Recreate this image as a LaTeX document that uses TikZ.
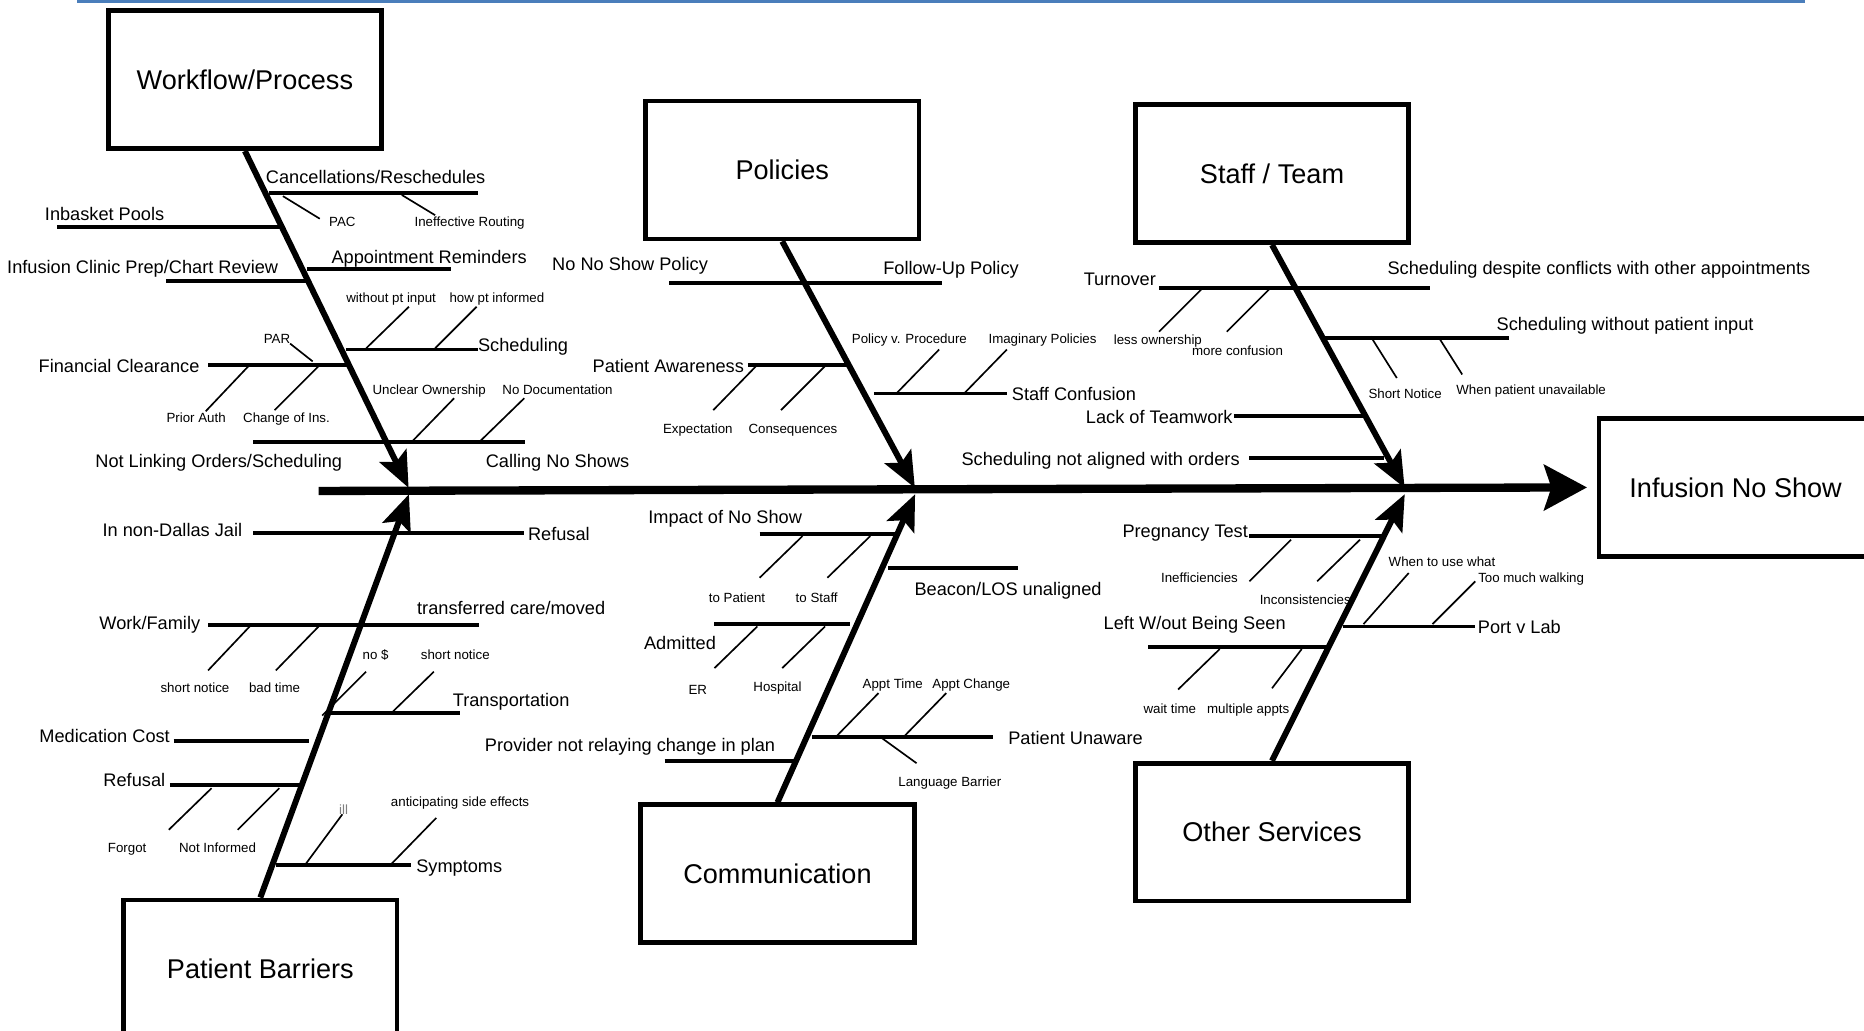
\documentclass[tikz,border=0pt]{standalone}
\usepackage{fontspec}
\setmainfont{Liberation Sans}
\usetikzlibrary{arrows.meta,positioning}
\definecolor{rulebl}{RGB}{74,126,187}
\begin{document}
\begin{tikzpicture}[x=1pt, y=-1pt]
    \tikzset{
      cat/.style = {draw, line width=4pt, minimum width=230pt,
      minimum height=116pt, inner sep=0pt,
      font=\fontsize{22.8}{27}\selectfont},
      lbl/.style = {inner sep=0pt, text height=1.5ex, text depth=.25ex,
      yshift=-3pt, font=\fontsize{15.3}{18}\selectfont},
      sml/.style = {inner sep=0pt, text height=1.5ex, text depth=.25ex,
      yshift=-1.5pt, font=\fontsize{11.2}{13}\selectfont},
      spine/.style = {line width=5pt, shorten >=3pt,
      -{Stealth[length=30pt, width=25pt, inset=6pt]}},
      bone/.style = {line width=3.3pt},
      twig/.style = {line width=1.4pt}
    }
    \useasboundingbox (0,0) rectangle (1568,867);

    \coordinate (rl) at (65,1.4);
    \coordinate (rr) at (1518,1.4);
    \draw[rulebl, line width=2.8pt] (rl) -- (rr);

    % head and main line
    \node[cat] (eff) at (1460,410) {Infusion No Show};
    \coordinate (tail) at (268,413);
    \coordinate (j1) at (345,413);
    \coordinate (j2) at (771,413);
    \coordinate (j3) at (1183,413);
    \draw[line width=7pt, shorten >=8pt,
      -{Stealth[length=36pt, width=38pt, inset=6pt]}] (tail) -- (eff.west);

    % Workflow/Process
    \node[cat] (wf) at (206,67) {Workflow/Process};
    \draw[spine] (wf.south) -- (j1);
    \coordinate (wf1a) at (226,162);  \coordinate (wf1b) at (402,162);
    \coordinate (wf2a) at (48,191);   \coordinate (wf2b) at (236,191);
    \coordinate (wf3a) at (258,226);  \coordinate (wf3b) at (379,226);
    \coordinate (wf4a) at (140,236);  \coordinate (wf4b) at (259,236);
    \coordinate (wf5a) at (291,294);  \coordinate (wf5b) at (402,294);
    \coordinate (wf6a) at (175,307);  \coordinate (wf6b) at (293,307);
    \coordinate (wf7a) at (213,372);  \coordinate (wf7b) at (442,372);
    \draw[bone]
      (wf1a) edge (wf1b)
      (wf2a) edge (wf2b)
      (wf3a) edge (wf3b)
      (wf4a) edge (wf4b)
      (wf5a) edge (wf5b)
      (wf6a) edge (wf6b)
      (wf7a) edge (wf7b)
    ;
    \coordinate (pac1) at (238,165);  \coordinate (pac2) at (269,184);
    \coordinate (rout1) at (338,164); \coordinate (rout2) at (366,181);
    \coordinate (wpi1) at (308,293);  \coordinate (wpi2) at (344,258);
    \coordinate (hpi1) at (366,293);  \coordinate (hpi2) at (401,258);
    \coordinate (par1) at (263,304);  \coordinate (par2) at (244,289);
    \coordinate (pra1) at (209,308);  \coordinate (pra2) at (173,346);
    \coordinate (ins1) at (268,308);  \coordinate (ins2) at (231,345);
    \coordinate (own1) at (347,371);  \coordinate (own2) at (382,335);
    \coordinate (doc1) at (404,371);  \coordinate (doc2) at (441,335);
    \draw[twig]
      (pac1) edge (pac2)
      (rout1) edge (rout2)
      (wpi1) edge (wpi2)
      (hpi1) edge (hpi2)
      (par1) edge (par2)
      (pra1) edge (pra2)
      (ins1) edge (ins2)
      (own1) edge (own2)
      (doc1) edge (doc2)
    ;
    \node[lbl] (cancel) at (316,148) {Cancellations/Reschedules};
    \node[sml] (pac) at (288,186) {PAC};
    \node[sml] (rout) at (395,186) {Ineffective Routing};
    \node[lbl] (inbox) at (88,179) {Inbasket Pools};
    \node[lbl] (remind) at (361,215) {Appointment Reminders};
    \node[lbl] (prep) at (120,224) {Infusion Clinic Prep/Chart Review};
    \node[lbl] (sched) at (440,289) {Scheduling};
    \node[sml] (wpi) at (329,250) {without pt input};
    \node[sml] (hpi) at (418,250) {how pt informed};
    \node[lbl, left=7pt of wf6a] (fin) {Financial Clearance};
    \node[sml] (par) at (233,284) {PAR};
    \node[sml] (pra) at (165,351) {Prior Auth};
    \node[sml] (ins) at (241,351) {Change of Ins.};
    \node[lbl] (link) at (184,387) {Not Linking Orders/Scheduling};
    \node[lbl] (call) at (469,387) {Calling No Shows};
    \node[sml] (own) at (361,327) {Unclear Ownership};
    \node[sml] (doc) at (469,327) {No Documentation};

    % Policies
    \node[cat] (po) at (658,143) {Policies};
    \draw[spine] (po.south) -- (j2);
    \coordinate (po1a) at (563,238);  \coordinate (po1b) at (792,238);
    \coordinate (po2a) at (629,307);  \coordinate (po2b) at (713,307);
    \coordinate (po3a) at (735,331);  \coordinate (po3b) at (847,331);
    \draw[bone]
      (po1a) edge (po1b)
      (po2a) edge (po2b)
      (po3a) edge (po3b)
    ;
    \coordinate (exp1) at (636,308);  \coordinate (exp2) at (600,345);
    \coordinate (con1) at (694,308);  \coordinate (con2) at (657,345);
    \coordinate (pvp1) at (754,331);  \coordinate (pvp2) at (790,294);
    \coordinate (imp1) at (811,331);  \coordinate (imp2) at (847,294);
    \draw[twig]
      (exp1) edge (exp2)
      (con1) edge (con2)
      (pvp1) edge (pvp2)
      (imp1) edge (imp2)
    ;
    \node[lbl] (nosp) at (530,221) {No No Show Policy};
    \node[lbl] (fup) at (800,225) {Follow-Up Policy};
    \node[lbl, left=3pt of po2a] (aware) {Patient Awareness};
    \node[sml] (exp) at (587,360) {Expectation};
    \node[sml] (con) at (667,360) {Consequences};
    \node[lbl, right=4pt of po3b] (sconf) {Staff Confusion};
    \node[sml] (pvp) at (765,284) {Policy v. Procedure};
    \node[sml] (imp) at (877,284) {Imaginary Policies};

    % Staff / Team
    \node[cat] (st) at (1070,146) {Staff / Team};
    \draw[spine] (st.south) -- (j3);
    \coordinate (st1a) at (975,242);  \coordinate (st1b) at (1203,242);
    \coordinate (st2a) at (1114,284); \coordinate (st2b) at (1269,284);
    \coordinate (st3a) at (1038,350); \coordinate (st3b) at (1147,350);
    \coordinate (st4a) at (1051,385); \coordinate (st4b) at (1164,385);
    \draw[bone]
      (st1a) edge (st1b)
      (st2a) edge (st2b)
      (st3a) edge (st3b)
      (st4a) edge (st4b)
    ;
    \coordinate (lo1) at (1011,243);  \coordinate (lo2) at (975,279);
    \coordinate (mc1) at (1068,243);  \coordinate (mc2) at (1032,279);
    \coordinate (sn1) at (1153,283);  \coordinate (sn2) at (1175,318);
    \coordinate (wpu1) at (1211,285); \coordinate (wpu2) at (1230,315);
    \draw[twig]
      (lo1) edge (lo2)
      (mc1) edge (mc2)
      (sn1) edge (sn2)
      (wpu1) edge (wpu2)
    ;
    \node[lbl] (turn) at (942,234) {Turnover};
    \node[lbl] (desp) at (1345,225) {Scheduling despite conflicts with other appointments};
    \node[sml] (lo) at (974,285) {less ownership};
    \node[sml] (mc) at (1041,294) {more confusion};
    \node[lbl] (swpi) at (1367,272) {Scheduling without patient input};
    \node[sml] (sn) at (1182,330) {Short Notice};
    \node[sml] (wpu) at (1288,327) {When patient unavailable};
    \node[lbl, left=1pt of st3a] (team) {Lack of Teamwork};
    \node[lbl, left=8pt of st4a] (notal) {Scheduling not aligned with orders};

    % Patient Barriers
    \node[cat] (pb) at (219,815) {Patient Barriers};
    \draw[spine] (pb.north) -- (j1);
    \coordinate (pb1a) at (213,448);  \coordinate (pb1b) at (441,448);
    \coordinate (pb2a) at (175,526);  \coordinate (pb2b) at (403,526);
    \coordinate (pb3a) at (278,600);  \coordinate (pb3b) at (387,600);
    \coordinate (pb4a) at (146,623);  \coordinate (pb4b) at (260,623);
    \coordinate (pb5a) at (143,660);  \coordinate (pb5b) at (253,660);
    \coordinate (pb6a) at (232,728);  \coordinate (pb6b) at (346,728);
    \draw[bone]
      (pb1a) edge (pb1b)
      (pb2a) edge (pb2b)
      (pb3a) edge (pb3b)
      (pb4a) edge (pb4b)
      (pb5a) edge (pb5b)
      (pb6a) edge (pb6b)
    ;
    \coordinate (shn1) at (210,527);  \coordinate (shn2) at (175,564);
    \coordinate (bt1) at (268,527);   \coordinate (bt2) at (232,564);
    \coordinate (nd1) at (308,565);   \coordinate (nd2) at (271,602);
    \coordinate (tsn1) at (365,565);  \coordinate (tsn2) at (329,600);
    \coordinate (fg1) at (178,663);   \coordinate (fg2) at (142,698);
    \coordinate (ni1) at (235,663);   \coordinate (ni2) at (200,698);
    \coordinate (ill1) at (288,685);  \coordinate (ill2) at (257,727);
    \coordinate (ase1) at (367,688);  \coordinate (ase2) at (329,727);
    \draw[twig]
      (shn1) edge (shn2)
      (bt1) edge (bt2)
      (nd1) edge (nd2)
      (tsn1) edge (tsn2)
      (fg1) edge (fg2)
      (ni1) edge (ni2)
      (ill1) edge (ill2)
      (ase1) edge (ase2)
    ;
    \node[lbl] (jail) at (145,445) {In non-Dallas Jail};
    \node[lbl, right=3pt of pb1b] (refu) {Refusal};
    \node[lbl] (work) at (126,523) {Work/Family};
    \node[lbl] (moved) at (430,511) {transferred care/moved};
    \node[sml] (shn) at (164,578) {short notice};
    \node[sml] (bt) at (231,578) {bad time};
    \node[lbl] (trans) at (430,588) {Transportation};
    \node[sml] (nd) at (316,550) {no \$};
    \node[sml] (tsn) at (383,550) {short notice};
    \node[lbl] (med) at (88,618) {Medication Cost};
    \node[lbl] (refl) at (113,655) {Refusal};
    \node[sml] (fg) at (107,712) {Forgot};
    \node[sml] (ni) at (183,712) {Not Informed};
    \node[lbl, right=4pt of pb6b] (symp) {Symptoms};
    \node[sml, text=gray] (ill) at (289,680) {ill};
    \node[sml] (ase) at (387,674) {anticipating side effects};

    % Communication
    \node[cat] (cm) at (654,735) {Communication};
    \draw[spine] (cm.north) -- (j2);
    \coordinate (cm1a) at (639,449);  \coordinate (cm1b) at (754,449);
    \coordinate (cm2a) at (747,478);  \coordinate (cm2b) at (856,478);
    \coordinate (cm3a) at (601,525);  \coordinate (cm3b) at (715,525);
    \coordinate (cm4a) at (683,620);  \coordinate (cm4b) at (835,620);
    \coordinate (cm5a) at (559,640);  \coordinate (cm5b) at (669,640);
    \draw[bone]
      (cm1a) edge (cm1b)
      (cm2a) edge (cm2b)
      (cm3a) edge (cm3b)
      (cm4a) edge (cm4b)
      (cm5a) edge (cm5b)
    ;
    \coordinate (tp1) at (675,451);   \coordinate (tp2) at (639,486);
    \coordinate (ts1) at (732,451);   \coordinate (ts2) at (696,486);
    \coordinate (er1) at (637,527);   \coordinate (er2) at (601,562);
    \coordinate (hos1) at (694,527);  \coordinate (hos2) at (658,562);
    \coordinate (at1) at (703,620);   \coordinate (at2) at (739,583);
    \coordinate (ac1) at (760,620);   \coordinate (ac2) at (796,583);
    \coordinate (lb1) at (742,621);   \coordinate (lb2) at (771,642);
    \draw[twig]
      (tp1) edge (tp2)
      (ts1) edge (ts2)
      (er1) edge (er2)
      (hos1) edge (hos2)
      (at1) edge (at2)
      (ac1) edge (ac2)
      (lb1) edge (lb2)
    ;
    \node[lbl] (impact) at (610,434) {Impact of No Show};
    \node[sml] (tp) at (620,502) {to Patient};
    \node[sml] (ts) at (687,502) {to Staff};
    \node[lbl] (beacon) at (848,495) {Beacon/LOS unaligned};
    \node[lbl] (adm) at (572,540) {Admitted};
    \node[sml] (er) at (587,579) {ER};
    \node[sml] (hos) at (654,577) {Hospital};
    \node[lbl, right=13pt of cm4b] (unaware) {Patient Unaware};
    \node[sml] (at) at (751,574) {Appt Time};
    \node[sml] (ac) at (817,574) {Appt Change};
    \node[sml] (lb) at (799,657) {Language Barrier};
    \node[lbl] (prov) at (530,626) {Provider not relaying change in plan};

    % Other Services
    \node[cat] (os) at (1070,700) {Other Services};
    \draw[spine] (os.north) -- (j3);
    \coordinate (os1a) at (1051,451); \coordinate (os1b) at (1163,451);
    \coordinate (os2a) at (1130,527); \coordinate (os2b) at (1241,527);
    \coordinate (os3a) at (966,544);  \coordinate (os3b) at (1117,544);
    \draw[bone]
      (os1a) edge (os1b)
      (os2a) edge (os2b)
      (os3a) edge (os3b)
    ;
    \coordinate (ine1) at (1086,454); \coordinate (ine2) at (1051,489);
    \coordinate (inc1) at (1144,454); \coordinate (inc2) at (1108,489);
    \coordinate (wtu1) at (1147,525); \coordinate (wtu2) at (1185,482);
    \coordinate (tmw1) at (1205,525); \coordinate (tmw2) at (1241,489);
    \coordinate (wt1) at (1026,546);  \coordinate (wt2) at (991,580);
    \coordinate (ma1) at (1095,546);  \coordinate (ma2) at (1070,579);
    \draw[twig]
      (ine1) edge (ine2)
      (inc1) edge (inc2)
      (wtu1) edge (wtu2)
      (tmw1) edge (tmw2)
      (wt1) edge (wt2)
      (ma1) edge (ma2)
    ;
    \node[lbl] (preg) at (997,446) {Pregnancy Test};
    \node[sml] (ine) at (1009,485) {Inefficiencies};
    \node[sml] (inc) at (1098,504) {Inconsistencies};
    \node[lbl, right=2pt of os2b] (port) {Port v Lab};
    \node[sml] (wtu) at (1213,472) {When to use what};
    \node[sml] (tmw) at (1288,485) {Too much walking};
    \node[lbl] (lwbs) at (1005,523) {Left W/out Being Seen};
    \node[sml] (wt) at (984,595) {wait time};
    \node[sml] (ma) at (1050,595) {multiple appts};
  \end{tikzpicture}
\end{document}
